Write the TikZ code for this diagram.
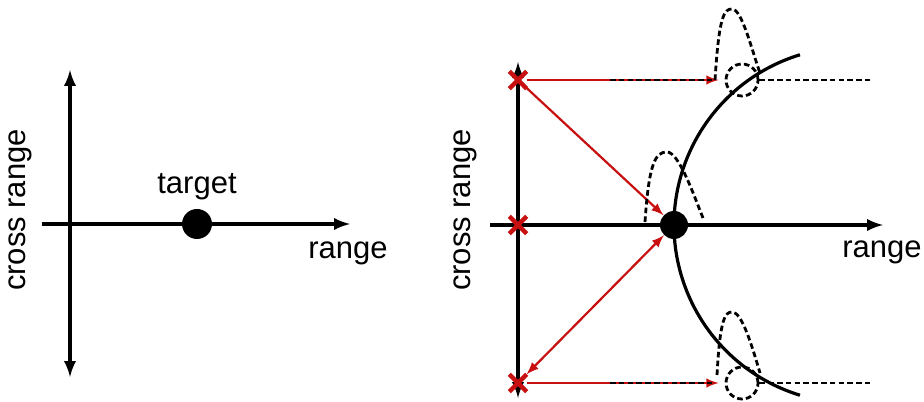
\documentclass[tikz,border=0pt]{standalone}
\usepackage{fontspec}
\setmainfont{Liberation Sans}
\usepackage{tikz}
\usetikzlibrary{arrows, shapes.misc}
\definecolor{sigred}{RGB}{200,16,16}

\begin{document}
\begin{tikzpicture}[x=0.5pt, y=0.5pt,
		>=latex,   %arrow tips
		font=\fontsize{15.5}{18}\selectfont,
		axis/.style={line width=1.7pt},
		ray/.style={sigred, line width=1.1pt},
		echo/.style={line width=1.4pt, dash pattern=on 2.8pt off 1.6pt},
		tgt/.style={circle, fill=black, inner sep=0pt, minimum size=#1},
		ghost/.style={circle, draw, echo, inner sep=0pt, minimum size=16pt},
		sensor/.style={draw=sigred, cross out, line width=2.2pt, minimum size=6.5pt, inner sep=0pt}]
		% frame
		\useasboundingbox (0,0) rectangle (924,401);
		% left: single target
		\coordinate (lT) at (70,331);
		\coordinate (lB) at (70,24);
		\coordinate (lL) at (42,177);
		\coordinate (lR) at (350,177);
		\draw[axis,<->] (lT) -- (lB);
		\draw[axis,->] (lL) -- (lR);
		\node[tgt=15pt] (tgtA) at (197,177) {};
		\node (lblTarget) at (197,214) {target};
		\node (lblRangeA) at (348,148) {range};
		\node[rotate=90] (lblCrossA) at (20,191) {cross range};
		% right: array of sensors
		\coordinate (rT) at (518,339);
		\coordinate (rB) at (518,3);
		\coordinate (rL) at (490,176);
		\coordinate (rR) at (883,176);
		\draw[axis,<->] (rT) -- (rB);
		\draw[axis,->] (rL) -- (rR);
		\node[tgt=14pt] (tgtB) at (674,176) {};
		\node (lblRangeB) at (882,149) {range};
		\node[rotate=90] (lblCrossB) at (465,191) {cross range};
		% range circle
		\draw[line width=1.6pt] (852,176) ++(107:178) arc[start angle=107, end angle=253, radius=178];
		% sensors and ghosts
		\foreach \n/\y in {top/321, mid/176, bot/18}
			\node[sensor] (s\n) at (518,\y) {};
		\foreach \n/\y in {top/321, bot/18} {
			\node[ghost] (g\n) at (742,\y) {};
			\coordinate (d\n) at (610,\y);
			\coordinate (e\n) at (870,\y);
			\draw[ray,->] (s\n) -- ([xshift=-3pt]g\n.west);
			\draw[echo] (d\n) -- ([xshift=-5pt]g\n.west);
			\draw[echo] (g\n.east) -- (e\n);
		}
		\draw[ray,->] (stop) -- (tgtB);
		\draw[ray,<->] (sbot) -- (tgtB);
		% echo pulses
		\draw[echo] (715,321) .. controls (719,385) and (724,392) .. (732,392) .. controls (742,392) and (752,350) .. (760,328);
		\draw[echo] (717,26) .. controls (720,82) and (725,89) .. (732,89) .. controls (742,89) and (752,55) .. (760,28);
		\draw[echo] (645,179) .. controls (649,240) and (656,249) .. (667,249) .. controls (679,249) and (694,205) .. (703,183);
	\end{tikzpicture}
\end{document}
